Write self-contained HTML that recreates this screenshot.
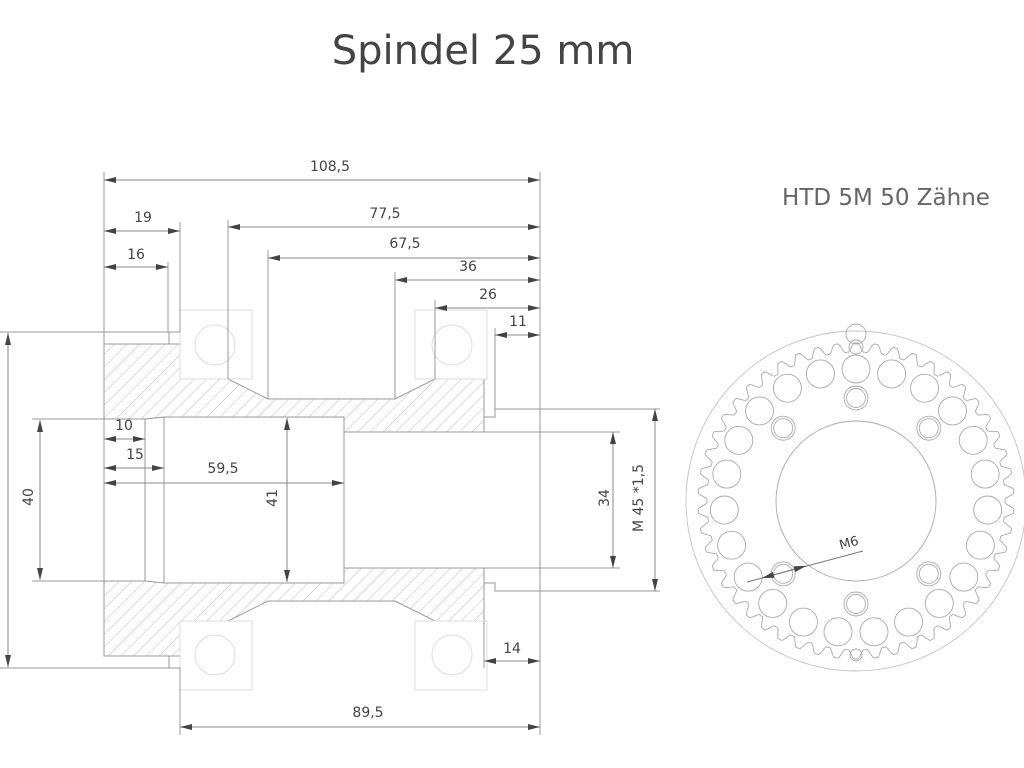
<!DOCTYPE html>
<html><head><meta charset="utf-8"><style>
html,body{margin:0;padding:0;background:#fff;width:1024px;height:768px;overflow:hidden}
svg{display:block}
text{font-family:"DejaVu Sans","Liberation Sans",sans-serif;fill:#444}
</style></head><body>
<svg width="1024" height="768" viewBox="0 0 1024 768" xmlns="http://www.w3.org/2000/svg">
<defs>
<pattern id="h" patternUnits="userSpaceOnUse" width="9" height="9" patternTransform="rotate(45)">
<line x1="0" y1="0" x2="0" y2="9" stroke="#aaa" stroke-width="0.8"/>
</pattern>
<marker id="a" viewBox="0 0 12 6" refX="12" refY="3" markerWidth="12" markerHeight="6" markerUnits="userSpaceOnUse" orient="auto-start-reverse">
<path d="M0,0 L12,3 L0,6 z" fill="#444"/>
</marker>
</defs>
<text x="483" y="64" font-size="40" text-anchor="middle" fill="#444">Spindel 25 mm</text>
<text x="886" y="205" font-size="23" text-anchor="middle" style="fill:#666">HTD 5M 50 Zähne</text>

<g stroke="#999" stroke-width="1" fill="none">
<path d="M104,344 L180,344 L180,379 L228,379 L268,399 L395,399 L435,379 L484,379 L484,432 L344,432 L344,417 L164,417 L145,419 L104,419 Z" fill="url(#h)"/>
<path d="M104,656 L180,656 L180,621 L228,621 L268,601 L395,601 L435,621 L484,621 L484,568 L344,568 L344,583 L164,583 L145,581 L104,581 Z" fill="url(#h)"/>
<path d="M169,344 L169,332 L180,332 L180,344 M169,656 L169,668 L180,668 L180,656"/>
<path d="M484,417 L495,417 L495,409 L540,409 M484,583 L495,583 L495,591 L540,591"/>
<path d="M104,419 L104,581 M145,419 L145,581 M164,417 L164,583 M344,417 L344,583 M344,432 L620,432 M344,568 L620,568 M540,409 L660,409 M540,591 L660,591"/>
<g stroke="#ddd">
<rect x="180" y="310" width="72" height="69"/><circle cx="215" cy="345" r="20"/>
<rect x="415" y="310" width="72" height="69"/><circle cx="452" cy="345" r="20"/>
<rect x="180" y="621" width="72" height="69"/><circle cx="215" cy="655" r="20"/>
<rect x="415" y="621" width="72" height="69"/><circle cx="452" cy="655" r="20"/>
</g>
<path d="M104,172 L104,419 M540,172 L540,735 M180,222 L180,332 M168,262 L168,332 M228,220 L228,379 M268,250 L268,399 M395,272 L395,399 M435,300 L435,379 M495,328 L495,409 M180,668 L180,735 M484,621 L484,668"/>
<path d="M0,332 L169,332 M0,668 L180,668 M32,419 L104,419 M32,581 L104,581"/>
</g>

<g stroke="#888" stroke-width="1" marker-start="url(#a)" marker-end="url(#a)">
<line x1="104" y1="180" x2="540" y2="180"/>
<line x1="104" y1="231" x2="180" y2="231"/>
<line x1="228" y1="227" x2="540" y2="227"/>
<line x1="104" y1="267" x2="168" y2="267"/>
<line x1="268" y1="258" x2="540" y2="258"/>
<line x1="395" y1="280" x2="540" y2="280"/>
<line x1="435" y1="308" x2="540" y2="308"/>
<line x1="495" y1="335" x2="540" y2="335"/>
<line x1="8" y1="333" x2="8" y2="667"/>
<line x1="40" y1="420" x2="40" y2="580"/>
<line x1="104" y1="439" x2="145" y2="439"/>
<line x1="104" y1="468" x2="164" y2="468"/>
<line x1="104" y1="483" x2="344" y2="483"/>
<line x1="287" y1="418" x2="287" y2="582"/>
<line x1="613" y1="432" x2="613" y2="568"/>
<line x1="655" y1="409" x2="655" y2="591"/>
<line x1="484" y1="661" x2="540" y2="661"/>
<line x1="180" y1="727" x2="540" y2="727"/>
</g>

<g font-size="14" text-anchor="middle">
<text x="330" y="171">108,5</text>
<text x="143" y="222">19</text>
<text x="385" y="218">77,5</text>
<text x="136" y="259">16</text>
<text x="405" y="248">67,5</text>
<text x="468" y="271">36</text>
<text x="488" y="299">26</text>
<text x="518" y="326">11</text>
<text x="124" y="430">10</text>
<text x="135" y="459">15</text>
<text x="223" y="473">59,5</text>
<text x="512" y="653">14</text>
<text x="368" y="717">89,5</text>
<text transform="translate(33,497) rotate(-90)">40</text>
<text transform="translate(277,498) rotate(-90)">41</text>
<text transform="translate(609,498) rotate(-90)">34</text>
<text transform="translate(643,498) rotate(-90)">M 45 *1,5</text>
</g>

<g id="gear" stroke="#aaa" stroke-width="0.9" fill="none">
<circle cx="856" cy="501" r="170" stroke="#c4c4c4"/>
<circle cx="856" cy="501" r="80"/>
<circle cx="856" cy="334" r="10"/><circle cx="856" cy="347" r="7"/>
<circle cx="856" cy="655" r="6"/>
</g>
<g stroke="#777" stroke-width="1">
<line x1="747" y1="582" x2="863" y2="551"/>
<line x1="762" y1="578" x2="806" y2="566" marker-start="url(#a)" marker-end="url(#a)"/>
</g>
<text transform="translate(850,547) rotate(-15)" font-size="13" text-anchor="middle">M6</text>
<script>
(function(){
var g=document.getElementById('gear'),ns='http://www.w3.org/2000/svg',cx=856,cy=501;
function c(x,y,r){var e=document.createElementNS(ns,'circle');e.setAttribute('cx',x);e.setAttribute('cy',y);e.setAttribute('r',r);g.appendChild(e);}
for(var i=0;i<23;i++){var t=i*2*Math.PI/23;c((cx+132*Math.sin(t)).toFixed(1),(cy-132*Math.cos(t)).toFixed(1),14);}
[0,45,135,180,225,315].forEach(function(d){var t=d*Math.PI/180;var x=cx+103*Math.sin(t),y=cy-103*Math.cos(t);c(x.toFixed(1),y.toFixed(1),12);c(x.toFixed(1),y.toFixed(1),9.5);});
var d='';for(var k=0;k<=1500;k++){var t=k*2*Math.PI/1500;var v=Math.cos(50*t)*1.3;v=Math.max(-1,Math.min(1,v));var r=153.5+4.5*v;d+=(k?'L':'M')+(cx+r*Math.sin(t)).toFixed(1)+','+(cy-r*Math.cos(t)).toFixed(1);}
var p=document.createElementNS(ns,'path');p.setAttribute('d',d+'Z');g.appendChild(p);
})();
</script>
</svg>
</body></html>
